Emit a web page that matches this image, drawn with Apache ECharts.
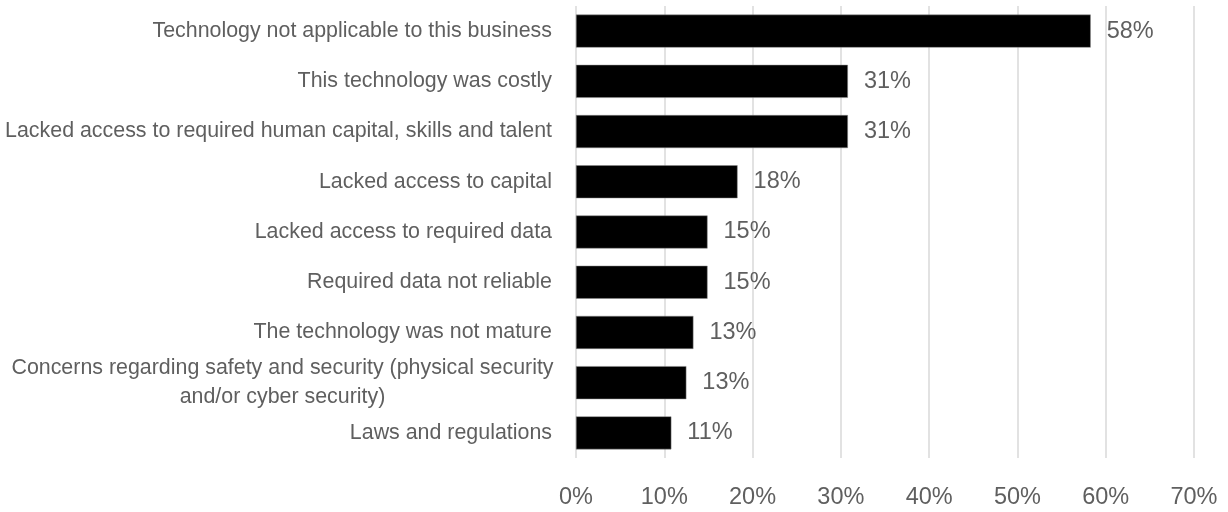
<!DOCTYPE html>
<html>
<head>
<meta charset="utf-8">
<script src="https://cdn.jsdelivr.net/npm/echarts@6/dist/echarts.min.js"></script>
<style>
html,body{margin:0;padding:0;background:#fff;}
#chart{width:1228px;height:512px;}
</style>
</head>
<body>
<div id="chart"></div>
<script>
const categories = [
  "Technology not applicable to this business",
  "This technology was costly",
  "Lacked access to required human capital, skills and talent",
  "Lacked access to capital",
  "Lacked access to required data",
  "Required data not reliable",
  "The technology was not mature",
  "Concerns regarding safety and security (physical security\nand/or cyber security)",
  "Laws and regulations"
];
const values = [58.3, 30.8, 30.8, 18.3, 14.9, 14.9, 13.3, 12.5, 10.8];
const xMin = 0, xMax = 70, xStep = 10;

const textColor = '#5f5f5f';
const fontFamily = '"Liberation Sans", Arial, sans-serif';

const chart = echarts.init(document.getElementById('chart'));
chart.setOption({
  animation: false,
  backgroundColor: '#ffffff',
  grid: { left: 576, right: 34, top: 6, bottom: 54, containLabel: false },
  xAxis: {
    type: 'value', min: xMin, max: xMax, interval: xStep,
    axisLine: { show: false }, axisTick: { show: false },
    splitLine: { show: true, lineStyle: { color: '#d9d9d9', width: 1.5 } },
    axisLabel: {
      formatter: '{value}%', color: textColor, fontSize: 23.5,
      fontFamily: fontFamily, margin: 28
    }
  },
  yAxis: {
    type: 'category', data: categories, inverse: true,
    axisLine: { show: false }, axisTick: { show: false },
    axisLabel: {
      color: textColor, fontSize: 21.4, fontFamily: fontFamily, margin: 24,
      lineHeight: 29,
      formatter: function (v) {
        if (v.indexOf('\n') >= 0) {
          return v.split('\n').map(s => '{c|' + s + '}').join('\n');
        }
        return v;
      },
      rich: {
        c: { width: 539, align: 'center', color: textColor, fontSize: 21.4, fontFamily: fontFamily, lineHeight: 29 }
      }
    }
  },
  series: [{
    type: 'bar', data: values, barWidth: 33,
    itemStyle: { color: '#000000', borderColor: '#8c8c8c', borderWidth: 0.5 },
    label: {
      show: true, position: 'right', distance: 16,
      color: textColor, fontSize: 23.5, fontFamily: fontFamily,
      formatter: p => Math.round(p.value) + '%'
    }
  }]
});
</script>
</body>
</html>
